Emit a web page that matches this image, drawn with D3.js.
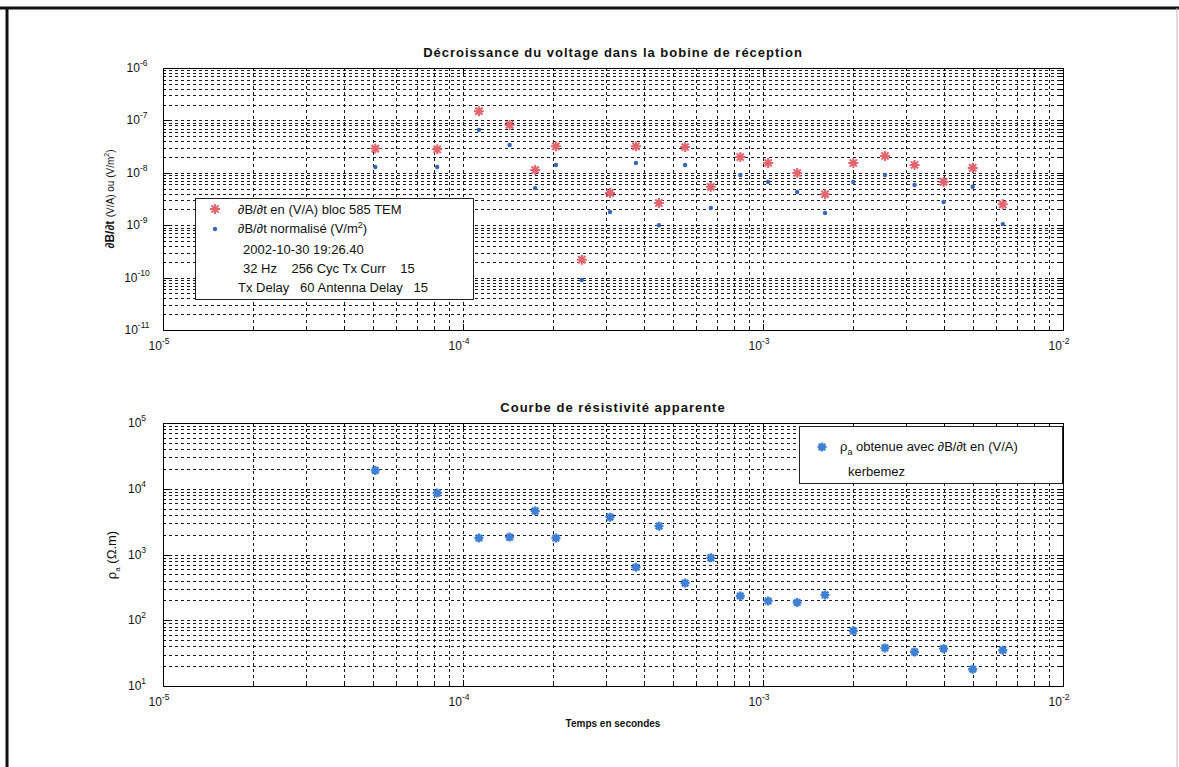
<!DOCTYPE html>
<html>
<head>
<meta charset="utf-8">
<script src="https://cdnjs.cloudflare.com/ajax/libs/d3/7.8.5/d3.min.js"></script>
<style>
	body{margin:0;background:#fff;}
	svg{display:block;font-family:"Liberation Sans", Arial, sans-serif;}
	.grid line{stroke:#1a1a1a;stroke-width:1;stroke-dasharray:3,3;}
	.frame{fill:none;stroke:#000;stroke-width:1;}
	.tick{stroke:#000;stroke-width:1;}
	.ticklabel{font-size:12px;fill:#111;}
	.title{font-size:13px;font-weight:bold;letter-spacing:1px;fill:#111;}
	.leg{font-size:13px;fill:#111;white-space:pre;}
</style>
</head>
<body>
<script>
//time gates (s) shared by both panels
var timeGates = [5.1e-5, 8.2e-5, 1.13e-4, 1.43e-4, 1.74e-4, 2.04e-4, 2.49e-4, 3.09e-4, 3.77e-4, 4.5e-4, 5.5e-4,
	6.7e-4, 8.4e-4, 1.04e-3, 1.3e-3, 1.61e-3, 2.0e-3, 2.55e-3, 3.2e-3, 4.0e-3, 5.0e-3, 6.3e-3];

//dB/dt in (V/A), bloc 585 TEM
var dBdtVA = [2.9e-8, 2.8e-8, 1.5e-7, 8.2e-8, 1.13e-8, 3.2e-8, 2.2e-10, 4.1e-9, 3.2e-8, 2.65e-9, 3.1e-8,
	5.4e-9, 2.0e-8, 1.54e-8, 9.9e-9, 3.9e-9, 1.54e-8, 2.1e-8, 1.41e-8, 6.7e-9, 1.24e-8, 2.5e-9];

//dB/dt normalised (V/m2)
var dBdtNorm = [1.29e-8, 1.29e-8, 6.6e-8, 3.4e-8, 5.1e-9, 1.41e-8, 9.0e-11, 1.79e-9, 1.54e-8, 1.0e-9, 1.41e-8,
	2.13e-9, 9.1e-9, 6.7e-9, 4.3e-9, 1.71e-9, 6.7e-9, 9.1e-9, 5.85e-9, 2.77e-9, 5.4e-9, 1.05e-9];

//apparent resistivity (ohm.m), null = no point
var rhoA = [1.9e4, 8.6e3, 1.78e3, 1.84e3, 4.6e3, 1.78e3, null, 3.7e3, 640, 2.7e3, 368,
	890, 234, 196, 186, 243, 69, 38, 33, 37, 18, 35];

var xTicks = [-5, -4, -3, -2];
var yTicksTop = [-11, -10, -9, -8, -7, -6];
var yTicksBottom = [1, 2, 3, 4, 5];

var legendTop = ["2002-10-30 19:26.40", "32 Hz    256 Cyc Tx Curr    15", "Tx Delay   60 Antenna Delay   15"];

var width = 1179, height = 767;
var left = 163, right = 1063;

var svg = d3.select("body").append("svg")
	.attr("width", width)
	.attr("height", height);

//scanned page border
svg.append("line").attr("x1", 0).attr("x2", width).attr("y1", 8).attr("y2", 8)
	.attr("stroke", "#111").attr("stroke-width", 3);
svg.append("line").attr("x1", 7).attr("x2", 7).attr("y1", 8).attr("y2", height)
	.attr("stroke", "#111").attr("stroke-width", 3);
svg.append("line").attr("x1", 1177).attr("x2", 1177).attr("y1", 8).attr("y2", height)
	.attr("stroke", "#bbb").attr("stroke-width", 1);

var x = d3.scaleLog().domain([1e-5, 1e-2]).range([left, right]);

function asterisk(r){
	var a = r * 0.72;
	return "M" + (-r) + ",0L" + r + ",0M0," + (-r) + "L0," + r +
		"M" + (-a) + "," + (-a) + "L" + a + "," + a + "M" + (-a) + "," + a + "L" + a + "," + (-a);
}

function powLabel(sel, exp){
	sel.append("tspan").text("10");
	sel.append("tspan").attr("dy", -6).style("font-size", "8.5px").text(exp);
}

function makePanel(top, bottom, yDomain, yExps, title){
	var y = d3.scaleLog().domain(yDomain).range([bottom, top]);
	var g = svg.append("g");

	//minor + major grid
	var xGrid = [], yGrid = [];
	for (var e = -5; e < -2; e++){
		for (var m = 1; m < 10; m++) xGrid.push(m * Math.pow(10, e));
	}
	xGrid.push(1e-2);
	for (var e2 = yExps[0]; e2 < yExps[yExps.length - 1]; e2++){
		for (var m2 = 1; m2 < 10; m2++) yGrid.push(m2 * Math.pow(10, e2));
	}

	var grid = g.append("g").attr("class", "grid");
	grid.selectAll(".gx").data(xGrid.slice(1, -1)).enter().append("line")
		.attr("x1", function(d){ return Math.round(x(d)) + 0.5; })
		.attr("x2", function(d){ return Math.round(x(d)) + 0.5; })
		.attr("y1", top).attr("y2", bottom);
	grid.selectAll(".gy").data(yGrid.slice(1)).enter().append("line")
		.attr("y1", function(d){ return Math.round(y(d)) + 0.5; })
		.attr("y2", function(d){ return Math.round(y(d)) + 0.5; })
		.attr("x1", left).attr("x2", right);

	//ticks inward on all four sides
	var ticks = g.append("g");
	xGrid.forEach(function(d){
		var major = Math.abs(Math.log10(d) - Math.round(Math.log10(d))) < 1e-9;
		var len = major ? 6 : 3;
		var px = Math.round(x(d)) + 0.5;
		ticks.append("line").attr("class", "tick").attr("x1", px).attr("x2", px).attr("y1", bottom).attr("y2", bottom - len);
		ticks.append("line").attr("class", "tick").attr("x1", px).attr("x2", px).attr("y1", top).attr("y2", top + len);
	});
	yGrid.concat([yDomain[1]]).forEach(function(d){
		var major = Math.abs(Math.log10(d) - Math.round(Math.log10(d))) < 1e-9;
		var len = major ? 6 : 3;
		var py = Math.round(y(d)) + 0.5;
		ticks.append("line").attr("class", "tick").attr("y1", py).attr("y2", py).attr("x1", left).attr("x2", left + len);
		ticks.append("line").attr("class", "tick").attr("y1", py).attr("y2", py).attr("x1", right).attr("x2", right - len);
	});

	g.append("rect").attr("class", "frame")
		.attr("x", left + 0.5).attr("y", top + 0.5)
		.attr("width", right - left).attr("height", bottom - top);

	//tick labels
	g.selectAll(".xl").data(xTicks).enter().append("text")
		.attr("class", "ticklabel")
		.attr("x", function(d){ return x(Math.pow(10, d)) - 4; })
		.attr("y", bottom + 20)
		.attr("text-anchor", "middle")
		.each(function(d){ powLabel(d3.select(this), d); });

	g.selectAll(".yl").data(yExps).enter().append("text")
		.attr("class", "ticklabel")
		.attr("x", left - 26)
		.attr("y", function(d){ return y(Math.pow(10, d)) + 4; })
		.attr("text-anchor", "middle")
		.each(function(d){ powLabel(d3.select(this), d); });

	g.append("text").attr("class", "title")
		.attr("x", (left + right) / 2).attr("y", top - 11)
		.attr("text-anchor", "middle")
		.text(title);

	return {g: g, y: y};
}

//top panel: voltage decay
var p1 = makePanel(68, 330, [1e-11, 1e-6], yTicksTop, "Décroissance du voltage dans la bobine de réception");

p1.g.selectAll(".red").data(dBdtVA).enter().append("path")
	.attr("d", asterisk(5))
	.attr("transform", function(d, i){ return "translate(" + x(timeGates[i]) + "," + p1.y(d) + ")"; })
	.attr("stroke", "#e5636d").attr("stroke-width", 2).attr("fill", "none");

p1.g.selectAll(".blue").data(dBdtNorm).enter().append("circle")
	.attr("cx", function(d, i){ return x(timeGates[i]); })
	.attr("cy", function(d){ return p1.y(d); })
	.attr("r", 2.2)
	.attr("fill", "#3467b4");

var yl1 = svg.append("text")
	.attr("transform", "translate(114," + 199 + ") rotate(-90)")
	.attr("text-anchor", "middle")
	.style("font-size", "12px").attr("fill", "#111");
yl1.append("tspan").style("font-weight", "bold").text("∂B/∂t ");
yl1.append("tspan").style("font-size", "10px").text("(V/A) ou (V/m");
yl1.append("tspan").attr("dy", -5).style("font-size", "7px").text("2");
yl1.append("tspan").attr("dy", 5).style("font-size", "10px").text(")");

//top legend
var lg1 = svg.append("g");
lg1.append("rect").attr("x", 195.5).attr("y", 198.5).attr("width", 278).attr("height", 101)
	.attr("fill", "#fff").attr("stroke", "#222");
lg1.append("path").attr("d", asterisk(5)).attr("transform", "translate(215,209)")
	.attr("stroke", "#e5636d").attr("stroke-width", 2).attr("fill", "none");
lg1.append("text").attr("class", "leg").attr("x", 238).attr("y", 214).text("∂B/∂t en (V/A) bloc 585 TEM");
lg1.append("circle").attr("cx", 215).attr("cy", 229).attr("r", 2.2).attr("fill", "#3467b4");
var t2 = lg1.append("text").attr("class", "leg").attr("x", 238).attr("y", 233);
t2.append("tspan").text("∂B/∂t normalisé (V/m");
t2.append("tspan").attr("dy", -5).style("font-size", "9px").text("2");
t2.append("tspan").attr("dy", 5).text(")");
lg1.selectAll(".info").data(legendTop).enter().append("text")
	.attr("class", "leg")
	.attr("x", function(d, i){ return i < 2 ? 243 : 238; })
	.attr("y", function(d, i){ return 254 + i * 19; })
	.attr("xml:space", "preserve")
	.text(function(d){ return d; });

//bottom panel: apparent resistivity
var p2 = makePanel(423, 686, [1e1, 1e5], yTicksBottom, "Courbe de résistivité apparente");

p2.g.selectAll(".rho").data(rhoA.map(function(d, i){ return {t: timeGates[i], v: d}; })
		.filter(function(d){ return d.v !== null; }))
	.enter().append("path")
	.attr("d", asterisk(4.5))
	.attr("transform", function(d){ return "translate(" + x(d.t) + "," + p2.y(d.v) + ")"; })
	.attr("stroke", "#3f7fd4").attr("stroke-width", 2.4).attr("fill", "none");

var yl2 = svg.append("text")
	.attr("transform", "translate(116," + 555 + ") rotate(-90)")
	.attr("text-anchor", "middle")
	.style("font-size", "13px").attr("fill", "#111");
yl2.append("tspan").text("ρ");
yl2.append("tspan").attr("dy", 4).style("font-size", "8px").text("a");
yl2.append("tspan").attr("dy", -4).text(" (Ω.m)");

svg.append("text")
	.attr("x", (left + right) / 2).attr("y", 727)
	.attr("text-anchor", "middle")
	.style("font-size", "10px").style("font-weight", "bold").attr("fill", "#111")
	.text("Temps en secondes");

//bottom legend
var lg2 = svg.append("g");
lg2.append("rect").attr("x", 799.5).attr("y", 426.5).attr("width", 263).attr("height", 57)
	.attr("fill", "#fff").attr("stroke", "#222");
lg2.append("path").attr("d", asterisk(4.5)).attr("transform", "translate(822,447)")
	.attr("stroke", "#3f7fd4").attr("stroke-width", 2.4).attr("fill", "none");
var t3 = lg2.append("text").attr("class", "leg").attr("x", 840).attr("y", 451);
t3.append("tspan").text("ρ");
t3.append("tspan").attr("dy", 4).style("font-size", "9px").text("a");
t3.append("tspan").attr("dy", -4).text(" obtenue avec ∂B/∂t en (V/A)");
lg2.append("text").attr("class", "leg").attr("x", 848).attr("y", 476).text("kerbemez");
</script>
</body>
</html>
